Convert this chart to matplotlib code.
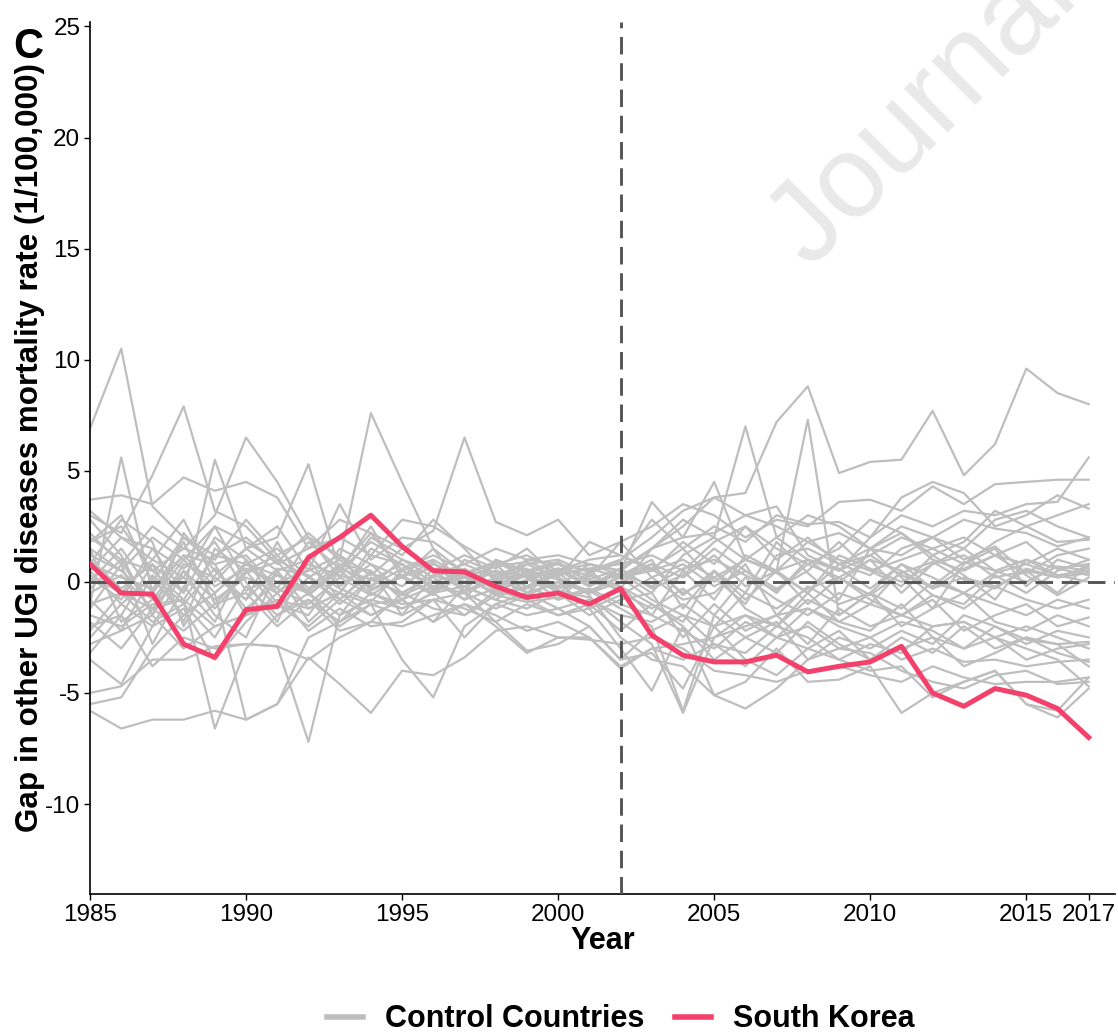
import matplotlib
matplotlib.use('Agg')
import matplotlib.pyplot as plt
from matplotlib.lines import Line2D

plt.rcParams['font.family'] = ['Liberation Sans', 'DejaVu Sans']
plt.rcParams['axes.unicode_minus'] = False

years = list(range(1985, 2018))
treat_year = 2002

# South Korea gap (treated unit)
korea_gap = [0.8, -0.5, -0.55, -2.8, -3.4, -1.25, -1.1, 1.1, 2.0, 3.0, 1.6, 0.5,
             0.45, -0.2, -0.7, -0.5, -1.0, -0.3,
             -2.4, -3.3, -3.6, -3.6, -3.3, -4.05, -3.8, -3.6, -2.9, -5.0, -5.6,
             -4.8, -5.1, -5.7, -7.0]

# placebo gaps, one list per control country (1985..2002 | 2003..2017)
control_gaps = [
    [6.9, 10.5, 3.4, 2.0, 1.2, 0.8, 0.3, -0.4, 0.6, 0.1, -0.5, 0.3, -0.2, 0.5, 0.2, -0.3, 0.1, 0.6,
     1.5, 2.5, 3.8, 4.0, 7.2, 8.8, 4.9, 5.4, 5.5, 7.7, 4.8, 6.2, 9.6, 8.5, 8.0],
    [3.0, 2.2, 4.8, 7.9, 3.2, 2.5, 1.0, 0.2, -0.5, 1.2, 0.8, -0.3, 0.4, 0.9, 0.2, 0.6, -0.2, 0.4,
     -0.5, 1.2, 2.0, 7.0, 2.0, 1.0, 0.5, 1.2, 2.0, 1.5, 0.8, 1.8, 2.5, 3.0, 3.5],
    [1.5, 0.5, -0.8, 1.0, 2.5, 1.8, 0.9, 2.2, 1.0, 7.6, 4.5, 1.5, 0.4, -0.3, 0.8, 0.2, -0.5, 0.3,
     0.8, -0.6, 0.5, -0.8, 0.5, 7.3, -1.5, -0.5, 0.8, -0.3, 0.6, 1.2, 0.3, -0.6, 0.2],
    [2.0, 1.0, 0.5, 1.5, 3.0, 6.5, 4.5, 2.0, 1.2, 0.3, 1.5, 2.3, 6.5, 2.7, 2.1, 2.8, 1.2, 1.8,
     2.5, 3.5, 3.0, 2.0, 2.8, 2.5, 3.6, 3.7, 3.2, 4.3, 3.5, 4.4, 4.5, 4.6, 4.6],
    [-1.0, 5.6, -0.5, 1.2, 0.8, -1.5, 0.5, 1.0, -0.8, 0.4, -0.2, 0.8, 0.3, -0.6, 0.5, 0.1, -0.4, 0.2,
     -0.8, -1.5, -2.0, -0.5, -1.2, -0.3, 0.2, -0.8, -1.5, -0.6, -1.0, 0.3, -0.5, 0.5, 1.0],
    [0.5, 2.0, 1.5, -0.5, 5.5, 1.5, 2.0, 5.3, 0.5, 1.8, 1.0, 0.2, -0.8, 0.9, 0.4, 0.8, 0.0, -0.3,
     1.5, 2.0, 2.2, 3.0, 3.4, 1.2, 0.5, 2.0, 3.8, 4.5, 4.0, 2.5, 3.0, 3.9, 3.3],
    [3.7, 3.9, 3.5, 4.7, 4.1, 4.5, 3.8, 1.5, 2.0, 1.2, 2.8, 2.5, 1.6, 0.8, 1.2, 0.5, 1.0, 1.2,
     0.6, -0.5, 0.2, 1.0, 0.5, -0.5, 0.8, 1.2, 0.3, -0.2, 0.9, 0.5, 0.0, 0.7, 0.5],
    [-5.8, -6.6, -6.2, -6.2, -5.8, -6.2, -5.5, -3.4, -4.6, -5.9, -4.0, -4.2, -3.4, -2.2, -2.0, -2.5, -2.6, -2.8,
     -2.5, -3.0, -4.0, -4.2, -4.5, -4.0, -3.8, -4.2, -4.5, -3.8, -4.3, -4.6, -4.5, -4.5, -4.3],
    [-2.0, -1.5, -3.8, -2.5, -3.0, -2.8, -2.9, -7.2, -1.5, -0.8, -1.2, -0.5, 0.3, -0.6, -0.2, -0.8, -0.4, -1.2,
     -2.0, -5.8, -1.5, -2.5, -1.8, -3.5, -2.5, -3.0, -2.2, -2.8, -1.5, -2.0, -2.6, -2.8, -2.7],
    [-1.5, -2.0, -1.0, -0.8, -6.6, -3.0, -1.5, -0.5, -2.0, -1.0, -3.5, -5.2, -2.0, -1.0, -0.5, -1.2, -0.8, -1.5,
     -1.8, -1.0, -2.0, -1.5, -2.5, -1.2, -1.8, -1.0, -1.5, -2.0, -1.8, -2.5, -3.0, -3.5, -4.7],
    [-5.0, -4.7, -3.5, -3.5, -2.9, -2.8, -2.9, -3.5, -2.5, -1.8, -2.0, -1.5, -1.0, -1.5, -2.2, -1.8, -2.5, -3.8,
     -3.0, -2.8, -2.5, -2.0, -1.5, -1.2, -2.0, -2.5, -3.5, -3.0, -3.6, -3.5, -3.8, -3.6, -3.5],
    [-5.5, -5.2, -3.0, -1.5, -0.5, -6.2, -5.5, -2.5, -1.8, -1.0, -0.8, -0.2, -0.5, -1.8, -3.1, -2.8, -2.0, -3.5,
     -3.2, -4.8, -2.0, -3.5, -4.2, -3.0, -3.5, -4.0, -3.8, -5.2, -4.5, -4.0, -5.5, -5.8, -4.3],
    [-1.0, -0.5, -1.2, -0.8, -2.0, -1.5, -0.8, -1.2, -0.5, -1.0, -1.5, -0.8, -1.2, -1.8, -1.0, -1.5, -1.2, -3.0,
     -4.9, -2.0, -5.1, -4.5, -3.0, -4.5, -4.4, -3.8, -5.9, -5.0, -4.5, -4.0, -5.5, -6.1, -4.8],
    [0.5, -1.0, 0.2, -1.5, -0.5, 0.8, -0.3, -1.0, 0.2, -0.6, 0.3, -0.5, -0.2, -0.8, 0.1, -0.4, -0.7, -1.8,
     -2.8, -5.9, -2.5, -1.5, -2.0, -0.5, -1.8, -2.2, -1.0, -2.5, -3.0, -2.0, -2.8, -2.2, -2.5],
    [-0.5, 0.3, -1.2, 0.5, -0.8, 0.2, -0.5, 0.6, -0.3, -0.9, 0.5, -0.2, 0.2, -0.5, -0.3, 0.4, -0.6, -2.5,
     -3.5, -3.8, -5.1, -5.7, -4.8, -3.5, -3.0, -3.2, -4.0, -4.5, -4.8, -4.2, -4.0, -4.6, -4.5],
    [1.2, 0.5, 2.0, 1.0, -0.5, 0.8, 1.5, 0.2, 1.0, -0.2, 0.6, 1.2, 0.5, 0.3, 0.8, 1.0, 0.4, 0.9,
     2.8, 1.5, 2.5, 1.8, 3.0, 2.6, 2.7, 2.0, 3.0, 2.5, 3.2, 3.0, 3.5, 3.6, 5.6],
    [0.2, -0.8, 1.5, 0.6, 1.8, -0.4, 0.3, -0.5, 1.5, 0.8, 0.2, -0.6, 1.0, 0.4, -0.2, 0.5, 0.8, 0.5,
     3.6, 2.0, 4.5, 1.0, 2.0, 3.0, 2.5, 1.5, 1.2, 2.0, 1.5, 2.8, 3.2, 2.5, 2.0],
    [1.8, 2.5, 0.5, -0.8, 1.2, 2.0, 0.8, 1.5, 2.8, 2.2, 1.5, 0.5, 1.2, 0.6, 1.5, 0.2, 1.8, 1.2,
     0.5, 1.8, 0.8, 2.5, 1.5, 0.8, 1.5, 2.8, 2.2, 1.2, 1.8, 3.2, 2.5, 1.8, 1.9],
    [-3.2, -1.5, 0.8, -1.8, 1.5, 0.5, -1.2, 0.2, -0.8, 0.5, -1.5, 0.3, 0.8, 0.2, -0.5, 0.6, 0.3, -0.2,
     -1.5, 0.5, -0.8, 1.2, 0.5, -1.0, 0.2, 1.0, -0.5, 0.8, 1.2, 0.2, 0.5, -0.5, 0.8],
    [2.8, 1.2, -1.5, 2.2, 0.5, -0.8, 1.8, -0.6, 0.5, 2.5, 0.2, 1.5, -0.4, 1.0, 0.5, -0.2, 0.8, 0.3,
     1.0, -1.2, 0.5, -0.5, 1.8, 0.4, -0.8, 1.5, 0.2, -1.2, 0.8, 1.5, -0.2, 1.0, 0.6],
    [-2.5, -1.0, -2.0, 0.5, -1.5, -2.5, 0.5, -1.8, -0.5, -1.5, -0.8, -1.8, -0.2, -0.8, -1.2, -0.5, -1.5, -0.8,
     -0.5, -2.5, -1.0, -2.2, -1.5, -2.8, -1.2, -2.0, -1.5, -0.8, -2.2, -1.5, -1.0, -2.0, -1.6],
    [1.0, -0.3, 0.8, -0.5, 2.0, 1.0, -0.5, 0.8, 0.3, -0.2, 1.0, 0.5, -0.4, 0.2, 0.6, -0.3, 0.2, 1.8,
     0.2, 0.8, -0.2, 0.5, -0.5, 1.0, 0.6, -0.3, 0.8, 0.2, -0.5, 0.4, 0.8, 0.3, 0.0],
    [-0.8, -2.2, 0.3, -1.0, 0.6, -1.2, 0.0, -0.5, -1.5, 0.2, -0.6, 0.0, -0.8, -0.3, 0.3, -0.8, 0.5, -0.5,
     -1.2, -0.3, -1.5, 0.2, -0.8, -1.5, -0.5, -1.0, 0.5, -0.6, -1.2, -0.2, -0.8, -1.2, -0.8],
    [3.2, 2.0, 1.0, 2.8, 0.0, 1.5, 2.5, 0.5, 3.5, 1.0, 2.0, 1.8, 0.8, 1.5, 1.0, 0.8, 0.5, 1.0,
     2.0, 3.2, 3.8, 3.0, 2.5, 1.8, 2.2, 1.5, 2.5, 2.0, 2.8, 2.4, 2.2, 1.6, 2.0],
    [-1.8, -3.0, -1.2, -2.2, -1.0, -0.5, -2.0, -0.8, -2.2, -1.8, -0.5, -1.2, -1.5, -0.4, -0.8, -1.5, -1.0, -2.2,
     -1.0, -2.0, -3.5, -2.5, -3.2, -1.8, -2.8, -3.5, -2.5, -3.2, -2.0, -3.0, -2.5, -3.2, -3.6],
    [0.0, 1.5, -0.5, 1.8, -1.0, 0.5, 1.2, -0.3, 0.8, 0.5, -0.8, 0.6, 0.0, 0.5, -0.2, 0.3, 0.6, 0.2,
     0.5, 1.0, 0.2, -1.0, 1.2, 1.5, 0.8, 0.3, 1.5, 2.0, 1.0, 1.6, 0.4, 1.2, 1.5],
    [1.5, -1.8, -0.8, 0.2, 2.5, 0.0, -1.8, 1.2, -0.2, 0.8, -0.5, 0.3, 0.5, -0.4, 0.1, 0.5, -0.2, 0.6,
     -0.3, 0.3, 1.5, 0.5, -0.3, 0.5, 1.8, 0.5, -0.2, 1.2, 0.3, -0.8, 1.0, 0.6, 0.3],
    [-3.5, -4.6, -2.0, -1.2, -3.5, -1.8, -0.5, -2.2, -1.2, -2.0, -1.8, -0.8, -2.5, -1.0, -1.5, -1.2, -2.0, -3.5,
     -2.2, -1.5, -2.8, -3.2, -2.0, -2.5, -3.5, -2.8, -3.2, -2.0, -1.8, -2.5, -3.5, -3.0, -2.8],
    [2.2, 0.8, 2.5, 1.5, 1.0, 2.8, 1.2, 2.0, 0.2, 2.0, 1.2, 2.8, 1.5, 0.0, 1.0, 1.2, 0.8, 0.5,
     1.5, 2.8, 2.0, 1.0, 0.5, 1.8, 1.0, 0.5, 1.0, 1.5, 2.0, 1.2, 0.8, 1.5, 1.0],
    [-1.2, 0.8, -2.8, -0.2, -1.8, 1.0, -1.0, -1.5, 0.5, -0.5, -1.0, -0.8, -0.5, -1.2, -0.6, 0.0, -1.2, -0.6,
     0.2, -0.8, -0.5, 0.8, -1.5, -0.2, -1.0, -0.5, -1.2, 0.0, -0.5, -1.0, -1.5, -0.8, -1.2],
    [0.8, 2.8, 1.8, -2.0, 0.3, 1.5, 0.5, -1.2, -0.5, 1.5, 0.8, 0.0, 0.4, 0.8, -0.5, 0.0, -0.5, 0.0,
     0.8, 0.2, 1.2, -0.2, 0.5, 1.0, 0.0, 1.0, 0.5, -0.3, 0.2, -0.2, 0.5, 0.2, 0.4],
    [-2.8, -2.2, -1.5, -3.0, -2.0, -1.5, -1.0, -2.0, -0.8, -1.5, -0.8, -1.8, -1.0, -2.0, -3.2, -2.5, -2.5, -3.9,
     -3.0, -3.5, -2.8, -3.8, -2.5, -3.0, -2.2, -3.5, -3.0, -2.5, -3.8, -3.2, -2.5, -2.8, -3.8],
    [0.3, -0.5, 1.0, 0.2, -1.2, 0.4, 0.9, -0.6, 0.7, -0.3, 0.2, 0.9, -0.5, 0.1, 0.3, 0.6, -0.1, 0.4,
     -0.2, 0.6, 1.0, 0.3, -0.4, 0.8, 0.2, -0.6, 0.4, 0.9, 0.1, -0.3, 0.6, 0.2, 0.7],
    [-0.3, 1.0, -1.5, 0.8, 0.2, -0.8, 0.6, 0.3, -1.0, 0.1, 0.8, -0.4, 0.6, -0.2, 0.4, -0.5, 0.3, -0.2,
     -1.0, -1.8, 0.5, -1.2, -2.0, -0.8, -1.5, -0.5, -2.0, -1.2, -0.5, -1.8, -2.2, -1.5, -2.0],
    [1.8, 3.0, 0.0, 2.0, 0.8, 1.2, -0.3, 1.8, 0.6, 2.2, 0.5, 1.0, 0.2, 0.7, 0.9, 0.4, 0.6, 0.8,
     1.2, 0.5, 1.8, 2.5, 1.0, 2.0, 0.8, 1.5, 2.2, 1.0, 0.5, 1.2, 1.8, 0.6, 0.8],
    [-2.2, -0.5, -1.8, -1.0, -2.5, -0.2, -1.5, -0.8, -1.8, -0.5, -1.2, -0.5, -1.5, -0.6, -0.9, -0.7, -0.3, -1.0,
     -1.5, -2.2, -3.0, -1.8, -2.5, -2.0, -3.0, -2.5, -1.8, -2.2, -3.0, -2.5, -2.0, -2.5, -3.0],
    [0.8, 0.2, -0.3, 1.2, -0.2, 0.6, 0.0, 0.5, 1.2, -0.4, 0.3, 0.6, 0.2, -0.2, 0.5, 0.9, 0.0, 0.3,
     0.6, 1.5, 0.0, 1.0, 0.4, -0.5, 1.2, 0.6, 0.0, 0.8, 1.5, 0.5, 1.0, 0.3, 0.5],
]

x_ticks = [1985, 1990, 1995, 2000, 2005, 2010, 2015, 2017]
y_ticks = [-10, -5, 0, 5, 10, 15, 20, 25]

gray = '#bebebe'
pink = '#f4416c'
dash = '#555555'

fig = plt.figure(figsize=(11.18, 10.35), dpi=100)
ax = fig.add_axes([0.0805, 0.1362, 0.917, 0.8425])

# watermark from the source document
fig.text(0.724, 0.74, 'Journal', rotation=45, rotation_mode='anchor',
         ha='left', va='baseline', fontsize=84, color='#e9e9e9', zorder=0)

for gap in control_gaps:
    ax.plot(years, gap, color=gray, lw=1.6, zorder=2)

ax.axhline(0, color=dash, lw=2.1, ls=(0, (6, 3)), zorder=3)
ax.axvline(treat_year, color=dash, lw=2.1, ls=(0, (6, 3)), zorder=3)
ax.plot(years, korea_gap, color=pink, lw=3.6, zorder=4)

ax.set_xlim(1985, 2017.85)
ax.set_ylim(-14.05, 25.2)
ax.set_xticks(x_ticks)
ax.set_yticks(y_ticks)
ax.tick_params(labelsize=17.5, length=4, width=1, colors='black', pad=3)
for side in ['top', 'right']:
    ax.spines[side].set_visible(False)
for side in ['left', 'bottom']:
    ax.spines[side].set_linewidth(1.2)
ax.patch.set_alpha(0)

ax.set_xlabel('Year', fontsize=22, fontweight='bold', labelpad=0)
ax.set_ylabel('Gap in other UGI diseases mortality rate (1/100,000)',
              fontsize=22.6, fontweight='bold')
ax.yaxis.set_label_coords(-0.044, 0.512)

fig.text(0.012, 0.944, 'C', fontsize=30, fontweight='bold')

handles = [Line2D([], [], color=gray, lw=4), Line2D([], [], color=pink, lw=4)]
fig.legend(handles, ['Control Countries', 'South Korea'], loc='lower center',
           bbox_to_anchor=(0.555, -0.026), ncol=2, frameon=False, handlelength=1.2,
           columnspacing=1.0, handletextpad=0.7, prop={'size': 22, 'weight': 'bold'})

fig.savefig('out.png', dpi=100)
